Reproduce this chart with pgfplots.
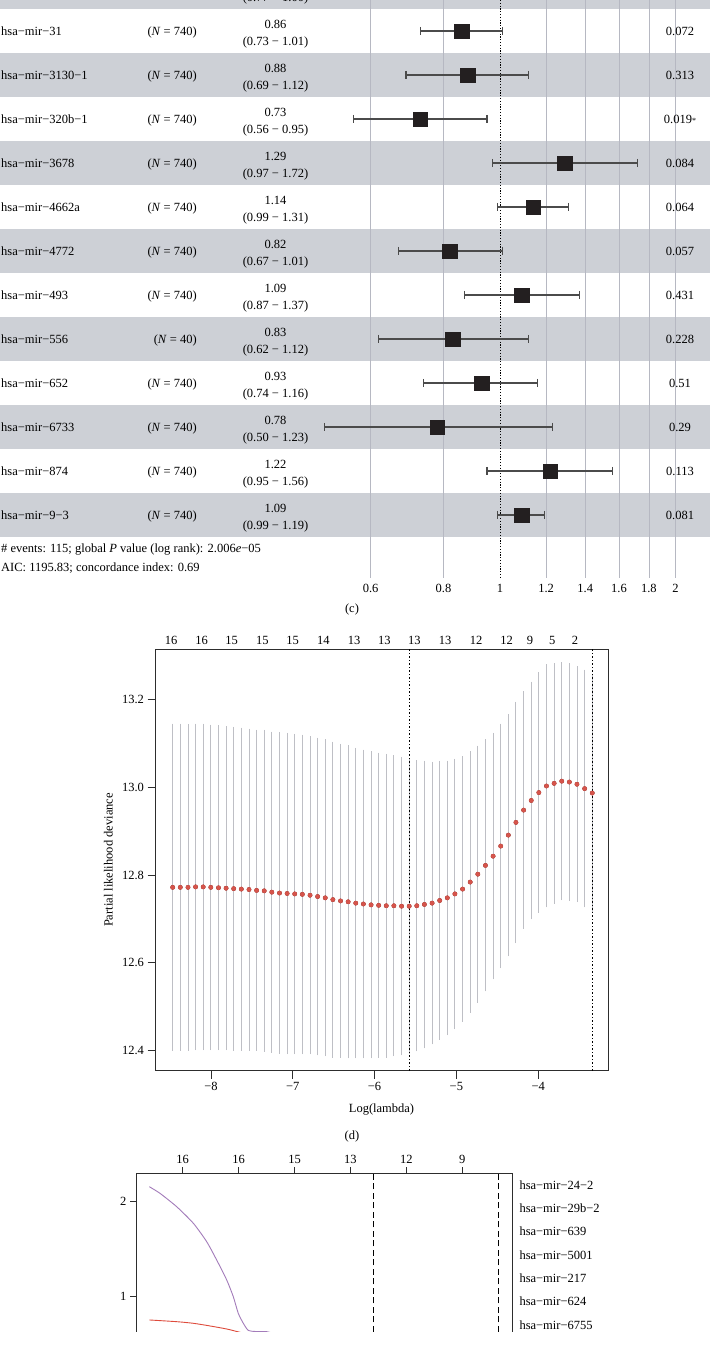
\documentclass[border=0pt]{standalone}
\usepackage{fontspec}
\setmainfont{Liberation Serif}
\usepackage{pgfplots}
\pgfplotsset{compat=1.18}
\usepackage{pgfplotstable}

\definecolor{bandgrey}{RGB}{205,208,214}
\definecolor{gridc}{RGB}{182,184,194}
\definecolor{errc}{RGB}{75,75,75}
\definecolor{boxc}{RGB}{35,31,32}
\definecolor{framec}{RGB}{45,45,45}
\definecolor{cverr}{RGB}{190,191,197}
\definecolor{reddot}{RGB}{214,84,75}
\definecolor{purp}{RGB}{163,124,186}
\definecolor{redl}{RGB}{222,75,60}

% forest plot: row centre (px from top) and hazard ratio
\pgfplotstableread{
yc hr
31 0.86
75 0.88
119 0.73
163 1.29
207 1.14
251 0.82
295 1.09
339 0.83
383 0.93
427 0.78
471 1.22
515 1.09
}\foresttab

% confidence interval ends (lo, hi) per row
\pgfplotstableread{
x y
0.73 31
1.01 31
nan nan
0.69 75
1.12 75
nan nan
0.56 119
0.95 119
nan nan
0.97 163
1.72 163
nan nan
0.99 207
1.31 207
nan nan
0.67 251
1.01 251
nan nan
0.87 295
1.37 295
nan nan
0.62 339
1.12 339
nan nan
0.74 383
1.16 383
nan nan
0.50 427
1.23 427
nan nan
0.95 471
1.56 471
nan nan
0.99 515
1.19 515
}\ftsegs

% grid lines of the forest plot
\pgfplotstableread{
x y
0.6 0
0.6 578
nan nan
0.8 0
0.8 578
nan nan
1.2 0
1.2 578
nan nan
1.4 0
1.4 578
nan nan
1.6 0
1.6 578
nan nan
1.8 0
1.8 578
nan nan
2 0
2 578
}\ftgrid

% cross-validation curve
\pgfplotstableread{
L m lo hi
-8.468 12.772 12.407 13.137
-8.375 12.772 12.407 13.137
-8.281 12.772 12.408 13.136
-8.188 12.773 12.409 13.137
-8.095 12.773 12.409 13.137
-8.002 12.772 12.409 13.135
-7.908 12.771 12.409 13.133
-7.815 12.770 12.409 13.131
-7.722 12.769 12.408 13.130
-7.629 12.768 12.408 13.128
-7.535 12.767 12.408 13.126
-7.442 12.765 12.407 13.123
-7.349 12.764 12.405 13.123
-7.256 12.761 12.403 13.119
-7.162 12.759 12.401 13.117
-7.069 12.758 12.400 13.116
-6.976 12.757 12.400 13.114
-6.883 12.756 12.400 13.112
-6.789 12.754 12.400 13.108
-6.696 12.751 12.397 13.105
-6.603 12.748 12.395 13.101
-6.510 12.744 12.392 13.096
-6.416 12.741 12.391 13.091
-6.323 12.739 12.390 13.088
-6.230 12.736 12.390 13.082
-6.137 12.734 12.390 13.078
-6.043 12.732 12.390 13.074
-5.950 12.731 12.391 13.071
-5.857 12.730 12.392 13.068
-5.764 12.730 12.395 13.065
-5.670 12.729 12.397 13.061
-5.577 12.729 12.401 13.057
-5.484 12.730 12.406 13.054
-5.391 12.733 12.413 13.053
-5.297 12.736 12.422 13.050
-5.204 12.742 12.432 13.052
-5.111 12.748 12.443 13.053
-5.018 12.757 12.457 13.057
-4.924 12.768 12.473 13.063
-4.831 12.784 12.494 13.074
-4.738 12.802 12.517 13.087
-4.645 12.822 12.543 13.101
-4.551 12.843 12.570 13.116
-4.458 12.866 12.595 13.137
-4.365 12.891 12.623 13.159
-4.272 12.920 12.653 13.187
-4.178 12.948 12.685 13.211
-4.085 12.970 12.707 13.233
-3.992 12.988 12.722 13.254
-3.899 13.003 12.734 13.272
-3.805 13.009 12.743 13.275
-3.712 13.014 12.751 13.277
-3.619 13.012 12.749 13.275
-3.526 13.007 12.746 13.268
-3.432 12.997 12.734 13.260
-3.339 12.987 12.723 13.251
}\cvtab

% coefficient paths
\pgfplotstableread{
L c
-9.597 2.158
-9.406 2.088
-9.107 1.947
-8.810 1.773
-8.571 1.579
-8.392 1.386
-8.213 1.176
-8.095 1.000
-8.006 0.825
-7.916 0.720
-7.827 0.645
-7.700 0.634
-7.498 0.632
-7.300 0.600
}\purptab
\pgfplotstableread{
L c
-9.597 0.755
-9.107 0.737
-8.810 0.720
-8.512 0.692
-8.213 0.660
-7.975 0.625
-7.800 0.600
}\redtab

\begin{document}
\begin{tikzpicture}[x=1pt,y=1pt,font=\fontsize{12.5}{15}\selectfont]
\fill[white] (0,0) rectangle (710,1345);

%================ (c) forest plot =================
\begin{axis}[at={(0pt,1345pt)}, anchor=north west, scale only axis,
  width=710pt, height=578pt,
  xmode=log, xmin=0.13892, xmax=2.2911, ymin=-578, ymax=0,
  y filter/.expression={-y},
  axis line style={draw=none}, major tick length=0pt,
  ytick=\empty, xminorticks=false,
  xtick={0.6,0.8,1,1.2,1.4,1.6,1.8,2},
  xticklabels={0.6,0.8,1,1.2,1.4,1.6,1.8,2},
  xticklabel style={font=\fontsize{12.5}{15}\selectfont, yshift=-3pt},
  clip=true]
\addplot[fill=bandgrey, draw=none] coordinates {(0.13892,-35) (2.2911,-35) (2.2911,9) (0.13892,9)} --cycle;
\addplot[fill=bandgrey, draw=none] coordinates {(0.13892,53) (2.2911,53) (2.2911,97) (0.13892,97)} --cycle;
\addplot[fill=bandgrey, draw=none] coordinates {(0.13892,141) (2.2911,141) (2.2911,185) (0.13892,185)} --cycle;
\addplot[fill=bandgrey, draw=none] coordinates {(0.13892,229) (2.2911,229) (2.2911,273) (0.13892,273)} --cycle;
\addplot[fill=bandgrey, draw=none] coordinates {(0.13892,317) (2.2911,317) (2.2911,361) (0.13892,361)} --cycle;
\addplot[fill=bandgrey, draw=none] coordinates {(0.13892,405) (2.2911,405) (2.2911,449) (0.13892,449)} --cycle;
\addplot[fill=bandgrey, draw=none] coordinates {(0.13892,493) (2.2911,493) (2.2911,537) (0.13892,537)} --cycle;
\addplot[gridc, line width=0.6pt, unbounded coords=jump] table[x=x,y=y] {\ftgrid};
\addplot[black, line width=0.7pt, dash pattern=on 1.2pt off 1.6pt] coordinates {(1,0) (1,578)};
\addplot[errc, line width=1.1pt, mark=|, mark size=4pt, mark options={solid, line width=1.1pt}, unbounded coords=jump] table[x=x,y=y] {\ftsegs};
\addplot[only marks, mark=square*, mark size=7.2pt, mark options={fill=boxc, draw=boxc}] table[x=hr,y=yc] {\foresttab};
\end{axis}

\foreach \yc/\nm/\nn/\est/\ci/\pv in {
 31/hsa−mir−31/740/0.86/0.73 − 1.01/0.072,
 75/hsa−mir−3130−1/740/0.88/0.69 − 1.12/0.313,
 119/hsa−mir−320b−1/740/0.73/0.56 − 0.95/0.019{\fontsize{8}{8}\selectfont*},
 163/hsa−mir−3678/740/1.29/0.97 − 1.72/0.084,
 207/hsa−mir−4662a/740/1.14/0.99 − 1.31/0.064,
 251/hsa−mir−4772/740/0.82/0.67 − 1.01/0.057,
 295/hsa−mir−493/740/1.09/0.87 − 1.37/0.431,
 339/hsa−mir−556/40/0.83/0.62 − 1.12/0.228,
 383/hsa−mir−652/740/0.93/0.74 − 1.16/0.51,
 427/hsa−mir−6733/740/0.78/0.50 − 1.23/0.29,
 471/hsa−mir−874/740/1.22/0.95 − 1.56/0.113,
 515/hsa−mir−9−3/740/1.09/0.99 − 1.19/0.081}{
  \node[anchor=base west, inner sep=0] at (1,1345-\yc-4.5) {\nm};
  \node[anchor=base east, inner sep=0] at (197,1345-\yc-4.5) {(\textit{N} = \nn)};
  \node[anchor=base, inner sep=0] at (275.5,1345-\yc+2.5) {\est};
  \node[anchor=base, inner sep=0] at (275.5,1345-\yc-14.5) {(\ci)};
  \node[anchor=base, inner sep=0] at (680,1345-\yc-4.5) {\pv};
}
\node[anchor=base, inner sep=0] at (275.5,1343) {(0.77 − 1.00)};
\node[anchor=base west, inner sep=0] at (1,1345-553) {\# events: 115; global \textit{P} value (log rank): 2.006\textit{e}−05};
\node[anchor=base west, inner sep=0] at (1,1345-571.5) {AIC: 1195.83; concordance index: 0.69};
\node at (352,1345-610) {(c)};

%================ (d) CV curve =================
\begin{axis}[at={(155.5pt,695.7pt)}, anchor=north west, scale only axis,
  width=452.8pt, height=421.4pt,
  xmin=-8.678, xmax=-3.143, ymin=12.354, ymax=13.3146,
  axis line style={draw=framec, line width=0.8pt},
  tick align=outside, xtick pos=left, ytick pos=left, major tick length=8pt,
  tick style={framec, line width=0.8pt},
  xtick={-8,-7,-6,-5,-4}, xticklabels={−8,−7,−6,−5,−4},
  ytick={12.4,12.6,12.8,13.0,13.2}, yticklabels={12.4,12.6,12.8,13.0,13.2},
  ticklabel style={font=\fontsize{12.5}{15}\selectfont},
  clip=false]
\addplot[only marks, mark=none, forget plot,
  error bars/.cd, y dir=both, y explicit,
  error bar style={draw=cverr, line width=0.9pt},
  error mark options={draw=cverr, mark size=3.5pt, line width=0.9pt}]
  table[x=L, y=m, y error plus expr=\thisrow{hi}-\thisrow{m}, y error minus expr=\thisrow{m}-\thisrow{lo}] {\cvtab};
\addplot[black, line width=0.7pt, dash pattern=on 1.5pt off 2pt] coordinates {(-5.577,12.354) (-5.577,13.3146)};
\addplot[black, line width=0.7pt, dash pattern=on 1.5pt off 2pt] coordinates {(-3.339,12.354) (-3.339,13.3146)};
\addplot[only marks, mark=*, mark size=2.2pt, mark options={draw=reddot, fill=reddot}] table[x=L, y=m] {\cvtab};
\end{axis}
\foreach \x/\t in {171/16, 201.7/16, 231.7/15, 262.3/15, 292.7/15, 323.3/14, 354/13, 384.3/13, 414.3/13, 445/13, 476/12, 506.7/12, 530/9, 552.3/5, 575/2}
  \node[anchor=base, inner sep=0] at (\x,1345-644.5) {\t};
\node[rotate=90] at (108.3,1345-860) {Partial likelihood deviance};
\node at (381.5,1345-1110) {Log(lambda)};
\node at (352,1345-1136) {(d)};

%================ (e) coefficient paths =================
\begin{scope}
\clip (0,1345-1332) rectangle (710,1345-1090);
\begin{axis}[at={(136pt,171.7pt)}, anchor=north west, scale only axis,
  width=376.7pt, height=158.7pt,
  xmin=-9.835, xmax=-3.099, ymin=0.6284, ymax=2.299,
  axis line style={draw=none},
  tick align=outside, xtick pos=right, xticklabel pos=right, ytick pos=left,
  major tick length=6pt, tick style={framec, line width=0.8pt},
  xtick={-9,-8,-7,-6,-5,-4}, xticklabels={16,16,15,13,12,9},
  ytick={1,2}, yticklabels={1,2},
  ticklabel style={font=\fontsize{12.5}{15}\selectfont}]
\addplot[purp, line width=0.9pt, smooth, tension=0.4] table[x=L,y=c] {\purptab};
\addplot[redl, line width=0.9pt, smooth, tension=0.4] table[x=L,y=c] {\redtab};
\addplot[black, line width=0.8pt, dash pattern=on 6pt off 3.5pt] coordinates {(-5.592,0.6284) (-5.592,2.299)};
\addplot[black, line width=0.8pt, dash pattern=on 6pt off 3.5pt] coordinates {(-3.356,0.6284) (-3.356,2.299)};
\end{axis}
\draw[framec, line width=0.8pt] (136,1345-1340) -- (136,1345-1173.3) -- (512.7,1345-1173.3) -- (512.7,1345-1340);
\end{scope}
\foreach \y/\t in {1185/hsa−mir−24−2, 1208.3/hsa−mir−29b−2, 1231.7/hsa−mir−639, 1255/hsa−mir−5001, 1278.3/hsa−mir−217, 1301.7/hsa−mir−624, 1325/hsa−mir−6755}
  \node[anchor=base west, inner sep=0] at (519.3,1345-\y-4.3) {\t};
\pgfresetboundingbox
\useasboundingbox (0,0) rectangle (710,1345);
\end{tikzpicture}
\end{document}
